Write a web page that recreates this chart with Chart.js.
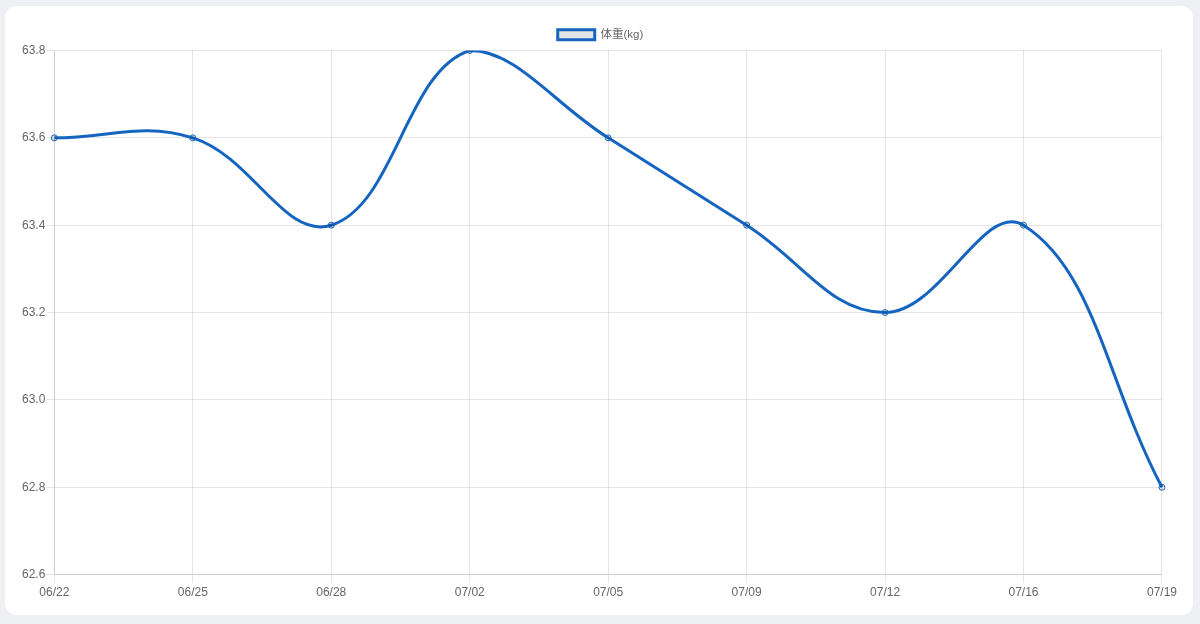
<!DOCTYPE html>
<html lang="ja">
<head>
    <meta charset="UTF-8">
    <script src="https://cdn.jsdelivr.net/npm/chart.js"></script>
    <title>体重</title>
    <style>
        html, body {
            margin: 0;
            padding: 0;
            background: #eef0f4;
        }
        .card {
            position: absolute;
            left: 5px;
            top: 6px;
            width: 1159px;
            height: 584px;
            padding: 13px 13px 12px 16px;
            background: #fff;
            border-radius: 12px;
        }
    </style>
</head>
<body>

<div class="card">
    <canvas id="weightChart"></canvas>
</div>

<script>
    // weight log
    const dates = ['06/22', '06/25', '06/28', '07/02', '07/05', '07/09', '07/12', '07/16', '07/19'];
    const weights = [63.6, 63.6, 63.4, 63.8, 63.6, 63.4, 63.2, 63.4, 62.8];

    Chart.defaults.font.family = '"Liberation Sans", Arial, "Noto Sans CJK JP", sans-serif';
    Chart.defaults.color = '#666';

    new Chart(document.getElementById('weightChart'), {
        type: 'line',
        data: {
            labels: dates,
            datasets: [{
                label: '体重(kg)',
                data: weights,
                borderColor: '#1565c0',
                backgroundColor: 'rgba(0, 0, 0, 0.1)',
                borderWidth: 3,
                tension: 0.4,
                pointRadius: 3,
                pointBorderWidth: 1,
                fill: false
            }]
        },
        options: {
            responsive: true,
            maintainAspectRatio: false,
            animation: false,
            plugins: {
                legend: {
                    labels: { padding: 10, boxWidth: 37, boxHeight: 10, font: { size: 11.5 } }
                }
            },
            scales: {
                y: {
                    min: 62.6,
                    max: 63.8,
                    ticks: { stepSize: 0.2, padding: 1 }
                }
            }
        }
    });
</script>
</body>
</html>
